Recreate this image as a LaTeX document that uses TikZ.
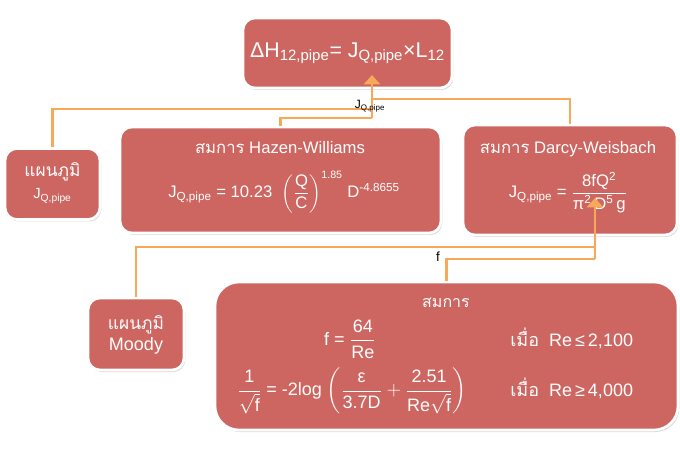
\documentclass[tikz,border=0pt]{standalone}
\usepackage{fontspec}
\usepackage{amsmath}
\setmainfont{Liberation Sans}
\newfontfamily\thaifont[Script=Thai]{Loma}
\usetikzlibrary{arrows.meta,shadows,calc}
\definecolor{boxred}{RGB}{205,102,97}
\definecolor{linkorange}{RGB}{247,168,88}
\newdimen\pxu \pxu=0.75pt
\tikzset{
    eqbox/.style={rectangle, draw=white, line width=2pt, rounded corners=9pt, fill=boxred, align=center, drop shadow={opacity=0.3, shadow xshift=1pt, shadow yshift=-1.5pt}},
    eqtext/.style={text=white, font=\fontsize{12.5}{15}\selectfont, inner sep=0pt, align=center},
    link/.style={draw=linkorange, line width=2.2pt},
    feed/.style={link, -{Triangle[width=12pt, length=7pt]}},
    tag/.style={font=\fontsize{9}{10}\selectfont, inner sep=1pt},
}

\begin{document}
\begin{tikzpicture}[x=0.75pt, y=-0.75pt]
    \path[fill=white] (0,0) rectangle (680,459);
    \useasboundingbox (0,0) rectangle (680,459);

    % boxes
    \node[eqbox, minimum width=209\pxu, minimum height=70\pxu, text=white, font=\fontsize{16}{18}\selectfont] (head) at (347.5,53)
        {ΔH\textsubscript{12,pipe}= J\textsubscript{Q,pipe}×L\textsubscript{12}};
    \node[eqbox, minimum width=95\pxu, minimum height=71\pxu] (lchart) at (52.5,184) {};
    \node[eqbox, minimum width=321\pxu, minimum height=106\pxu] (hazen) at (280.5,180) {};
    \node[eqbox, minimum width=214\pxu, minimum height=110\pxu] (darcy) at (570,180) {};
    \node[eqbox, minimum width=96\pxu, minimum height=72\pxu] (moody) at (136,334) {};
    \node[eqbox, minimum width=463\pxu, minimum height=148\pxu, rounded corners=18pt] (friction) at (446.5,356) {};

    % texts
    \node[eqtext, anchor=base, font=\fontsize{13}{15}\selectfont] (lchartA) at (52.5,177) {\thaifont แผนภูมิ};
    \node[eqtext, anchor=base, font=\fontsize{11}{13}\selectfont] (lchartB) at (52.5,199) {J\textsubscript{Q,pipe}};
    \node[eqtext] (hazenA) at (280,148) {{\thaifont สมการ} Hazen-Williams};
    \node[eqtext] (hazenB) at (284,192)
        {J\textsubscript{Q,pipe} = 10.23 \;$\left(\dfrac{\text{Q}}{\text{C}}\right)^{\text{\footnotesize 1.85}}$ D\textsuperscript{-4.8655}};
    \node[eqtext] (darcyA) at (568,149) {{\thaifont สมการ} Darcy-Weisbach};
    \node[eqtext] (darcyB) at (568,193)
        {J\textsubscript{Q,pipe} = $\dfrac{\text{8fQ\textsuperscript{2}}}{\text{π\textsuperscript{2}\,D\textsuperscript{5}\,g}}$};
    \node[eqtext, anchor=base, font=\fontsize{13}{15}\selectfont] (moodyA) at (136,329) {\thaifont แผนภูมิ};
    \node[eqtext, anchor=base, font=\fontsize{13.5}{16}\selectfont] (moodyB) at (136,350) {Moody};
    \node[eqtext, font=\fontsize{12}{14}\selectfont] (frictionA) at (446,303) {\thaifont สมการ};
    \node[eqtext, font=\fontsize{13.5}{16}\selectfont] (lamA) at (350,339) {f = $\dfrac{\text{64}}{\text{Re}}$};
    \node[eqtext, anchor=west, font=\fontsize{13.5}{16}\selectfont] (lamB) at (510,338) {{\thaifont เมื่อ}\ \ Re\,≤\,2,100};
    \node[eqtext, font=\fontsize{13.5}{16}\selectfont] (turbA) at (352,391)
        {$\dfrac{\text{1}}{\sqrt{\text{f}}}$ = -2log $\biggl(\dfrac{\text{ε}}{\text{3.7D}} + \dfrac{\text{2.51}}{\text{Re}\sqrt{\text{f}}}\biggr)$};
    \node[eqtext, anchor=west, font=\fontsize{13.5}{16}\selectfont] (turbB) at (510,388) {{\thaifont เมื่อ}\ \ Re\,≥\,4,000};

    % connectors to head
    \coordinate (jD) at (372,99);
    \coordinate (jL) at (372,109);
    \coordinate (jH) at (372,118);
    \coordinate (tipA) at (372,75);
    \draw[link] (lchart.north) |- (jL);
    \draw[link] (hazen.north) |- (jH);
    \draw[link] (darcy.north) |- (jD);
    \draw[feed] (jH) -- (tipA);
    \node[tag] (jlabel) at (370,106) {J\textsubscript{Q,pipe}};

    % connectors to darcy
    \coordinate (jM) at (595,247);
    \coordinate (jB) at (595,259);
    \coordinate (tipB) at (595,198);
    \draw[link] (moody.north) |- (jM);
    \draw[link] (friction.north) |- (jB);
    \draw[feed] (jB) -- (tipB);
    \node[tag, font=\fontsize{10}{12}\selectfont] (flabel) at (438,257) {f};
\end{tikzpicture}
\end{document}
